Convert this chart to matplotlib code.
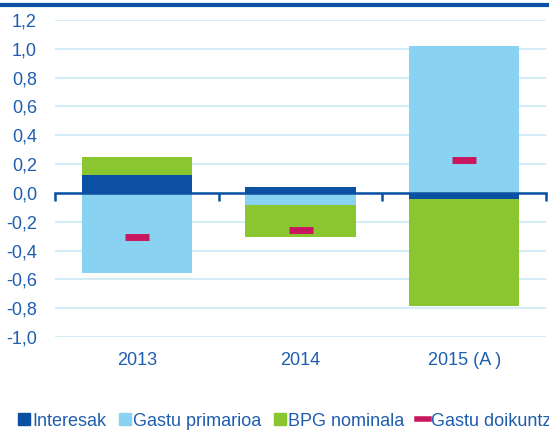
import matplotlib
matplotlib.use("Agg")
import matplotlib.pyplot as plt
import numpy as np
from matplotlib.patches import Patch
from matplotlib.lines import Line2D

categories = ["2013", "2014", "2015 (A )"]
interesak = [0.125, 0.042, -0.04]
gastu_primarioa = [-0.555, -0.083, 1.018]
bpg_nominala = [0.125, -0.22, -0.745]
gastu_doikuntza = [-0.305, -0.26, 0.225]
yticks = [-1.0, -0.8, -0.6, -0.4, -0.2, 0.0, 0.2, 0.4, 0.6, 0.8, 1.0, 1.2]

c_int = "#0B50A2"
c_prim = "#8AD2F1"
c_bpg = "#89C630"
c_adj = "#C8175E"
c_text = "#1F5DAE"
c_grid = "#C9EAF7"

plt.rcParams['font.family'] = ['Liberation Sans', 'DejaVu Sans']

fig = plt.figure(figsize=(5.49, 4.30), dpi=100)
ax = fig.add_axes([55/549, 1-337/430, 491/549, 317/430])

x = np.arange(len(categories))
w = 0.675
series = [(interesak, c_int), (gastu_primarioa, c_prim), (bpg_nominala, c_bpg)]
pos = np.zeros(len(categories))
neg = np.zeros(len(categories))
for vals, col in series:
    vals = np.array(vals)
    bottoms = np.where(vals >= 0, pos, neg)
    ax.bar(x, vals, width=w, bottom=bottoms, color=col, zorder=2, linewidth=0)
    pos = pos + np.where(vals >= 0, vals, 0)
    neg = neg + np.where(vals < 0, vals, 0)

ax.plot(x, gastu_doikuntza, linestyle='none', marker='_', markersize=17,
        markeredgewidth=5, color=c_adj, zorder=4)

ax.set_xlim(-0.5, 2.5)
ax.set_ylim(-1.0, 1.2)
ax.set_yticks(yticks)
ax.set_yticklabels([f"{v:.1f}".replace('.', ',') for v in yticks],
                   color=c_text, fontsize=13)
ax.tick_params(axis='y', length=0, pad=13)
ax.grid(axis='y', color=c_grid, linewidth=1.2, zorder=0)
for s in ['left', 'right', 'top']:
    ax.spines[s].set_visible(False)
ax.spines['bottom'].set_position(('data', 0))
ax.spines['bottom'].set_color(c_int)
ax.spines['bottom'].set_linewidth(1.8)
ax.spines['bottom'].set_zorder(3)
ax.set_xticks([-0.5, 0.5, 1.5, 2.5])
ax.set_xticklabels([])
ax.tick_params(axis='x', length=6, width=1.8, color=c_int, direction='out')

for xi, lab in zip(x, categories):
    ax.text(xi, -0.075, lab, transform=ax.get_xaxis_transform(),
            ha='center', va='center', color=c_text, fontsize=13)

fig.add_artist(Line2D([0, 1], [1-5/430, 1-5/430], color=c_int, linewidth=3,
                      transform=fig.transFigure))

handles = [Patch(color=c_int), Patch(color=c_prim), Patch(color=c_bpg),
           Line2D([], [], color=c_adj, linewidth=4)]
labels = ["Interesak", "Gastu primarioa", "BPG nominala", "Gastu doikuntza"]
leg = fig.legend(handles, labels, loc='center left', bbox_to_anchor=(18/549, 1-421/430),
                 ncol=4, frameon=False, fontsize=13, handlelength=0.65,
                 handleheight=0.65, handletextpad=0.12, columnspacing=0.72,
                 borderpad=0, borderaxespad=0)
for t in leg.get_texts():
    t.set_color(c_text)

fig.savefig("out.png", dpi=100)
